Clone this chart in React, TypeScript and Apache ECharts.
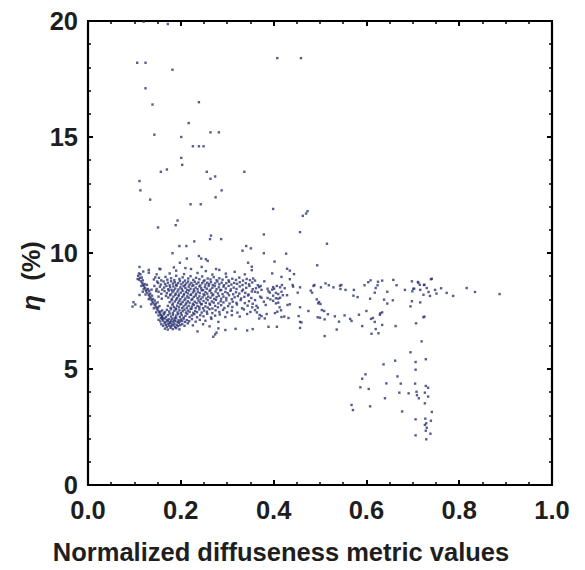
import React, { useEffect, useRef } from "react";
import * as echarts from "echarts";

// ---- axis ticks ----
const xTicks = [0.0, 0.2, 0.4, 0.6, 0.8, 1.0];
const yTicks = [0, 5, 10, 15, 20];

// ---- data (x: normalized diffuseness, y: eta %) ----
const upperScatter: number[][] = [
  [0.120,19.97],[0.172,19.87],[0.408,18.4],[0.459,18.4],[0.106,18.2],[0.124,18.2],[0.182,17.9],[0.124,17.1],
  [0.139,16.4],[0.239,16.5],[0.217,15.6],[0.143,15.1],[0.201,15.0],[0.264,15.2],[0.282,15.2],[0.226,14.6],
  [0.239,14.6],[0.249,14.6],[0.201,14.1],[0.203,13.8],[0.157,13.5],[0.170,13.6],[0.256,13.5],[0.337,13.5],
  [0.264,13.2],[0.274,13.3],[0.111,13.1],[0.113,12.7],[0.134,12.3],[0.288,12.7],[0.275,12.4],[0.221,12.1],
  [0.243,12.1],[0.399,11.9],[0.463,11.6],[0.470,11.7],[0.473,11.8],[0.193,11.4],[0.189,11.2],[0.151,11.1],
  [0.379,10.8],[0.457,10.9],[0.265,10.75],[0.263,10.6],[0.287,10.6],[0.229,10.5],[0.197,10.3],[0.212,10.3],
  [0.341,10.3],[0.333,10.1],[0.351,10.2],[0.515,10.4],[0.182,9.99],[0.379,9.99],[0.427,9.97],[0.239,9.87],
  [0.244,9.76],[0.254,9.73],[0.258,9.66],[0.213,9.76],[0.198,9.58],[0.402,9.63],[0.345,9.58],[0.353,9.41],
  [0.429,9.32],[0.494,9.47],[0.111,9.40],[0.154,9.32],[0.185,9.38],[0.210,9.35],[0.245,9.40],[0.276,9.31],
];

const rightTail: number[][] = [
  [0.360,8.81],[0.366,8.61],[0.369,8.53],[0.372,8.58],[0.362,8.48],[0.360,8.33],[0.366,8.30],[0.374,8.41],
  [0.380,8.78],[0.371,8.12],[0.360,7.97],[0.374,8.07],[0.363,7.72],[0.366,7.64],[0.360,7.54],[0.364,7.44],
  [0.370,7.33],[0.374,7.28],[0.369,7.18],[0.385,7.37],[0.381,7.18],[0.389,6.82],[0.383,7.76],[0.379,7.90],
  [0.387,8.06],[0.387,8.46],[0.389,8.35],[0.392,8.29],[0.397,8.42],[0.399,8.53],[0.401,8.46],[0.407,8.58],
  [0.414,8.52],[0.418,8.62],[0.424,8.48],[0.405,8.28],[0.410,8.23],[0.417,8.33],[0.399,8.16],[0.393,8.00],
  [0.399,7.94],[0.405,8.05],[0.410,8.03],[0.414,8.07],[0.420,8.18],[0.429,8.18],[0.405,7.83],[0.410,7.86],
  [0.413,7.66],[0.403,7.41],[0.408,7.47],[0.417,7.24],[0.423,7.26],[0.432,7.20],[0.407,6.82],[0.416,7.53],
  [0.430,7.76],[0.435,7.79],[0.397,9.12],[0.435,9.24],[0.444,9.09],[0.417,8.97],[0.435,8.87],[0.441,8.62],
  [0.442,8.55],[0.452,8.29],[0.454,7.28],
  [0.739,8.87],[0.741,8.89],[0.457,8.52],[0.486,8.58],[0.488,8.62],[0.483,8.29],[0.480,8.38],[0.502,8.52],
  [0.512,8.69],[0.519,8.61],[0.529,8.52],[0.543,8.59],[0.546,8.62],[0.544,8.45],[0.555,8.41],[0.573,8.41],
  [0.572,8.16],[0.581,8.10],[0.596,8.61],[0.604,8.74],[0.609,8.82],[0.620,8.49],[0.624,8.61],[0.625,8.76],
  [0.634,8.81],[0.645,8.33],[0.658,8.84],[0.665,8.61],[0.683,8.41],[0.698,8.78],[0.701,8.46],[0.699,8.35],
  [0.703,8.46],[0.711,8.75],[0.715,8.63],[0.716,8.41],[0.723,8.20],[0.724,8.62],[0.730,8.49],[0.734,8.32],
  [0.737,8.15],[0.748,8.41],[0.751,8.25],[0.761,8.48],[0.773,8.28],[0.787,8.15],[0.816,8.49],[0.834,8.32],
  [0.887,8.23],[0.618,8.29],[0.712,8.72],[0.725,8.63],
  [0.457,7.66],[0.475,7.50],[0.493,8.00],[0.496,7.83],[0.498,7.89],[0.501,7.80],[0.504,7.54],[0.509,7.50],
  [0.517,7.36],[0.532,7.27],[0.553,7.31],[0.565,7.16],[0.568,7.07],[0.584,7.34],[0.600,7.50],[0.608,8.03],
  [0.610,7.16],[0.614,7.20],[0.618,7.03],[0.629,7.34],[0.630,7.40],[0.634,7.44],[0.638,7.99],[0.645,7.82],
  [0.657,7.96],[0.634,6.90],[0.620,6.72],[0.611,6.52],[0.626,6.54],[0.591,6.85],[0.536,6.70],[0.510,6.42],
  [0.457,7.03],[0.460,7.01],[0.457,6.77],[0.663,6.85],[0.695,7.70],[0.698,7.92],[0.716,7.87],[0.707,6.97],
  [0.725,7.26],[0.723,7.23],[0.719,6.19],[0.500,7.21],[0.510,7.14],[0.541,7.04],[0.495,7.23],
];

const lowerBranch: number[][] = [
  [0.695,5.72],[0.637,5.20],[0.662,5.36],[0.706,5.30],[0.728,5.42],[0.706,4.97],[0.598,4.77],[0.591,4.58],
  [0.667,4.68],[0.643,4.38],[0.674,4.37],[0.705,4.37],[0.728,4.27],[0.733,4.19],[0.587,4.21],[0.605,4.14],
  [0.671,3.98],[0.691,3.95],[0.708,4.02],[0.709,3.87],[0.713,3.74],[0.726,3.98],[0.733,3.81],[0.640,3.74],
  [0.726,3.52],[0.568,3.45],[0.571,3.23],[0.608,3.39],[0.677,3.17],[0.741,3.15],[0.706,2.83],[0.727,2.86],
  [0.739,2.77],[0.729,2.66],[0.726,2.59],[0.730,2.47],[0.728,2.34],[0.738,2.21],[0.706,2.14],[0.729,1.97],
];

const clusterTop: number[][] = [
  [0.11,9.12],[0.119,9.2],[0.131,9.27],[0.131,9.15],[0.148,9.08],[0.156,9.3],[0.176,9.12],[0.19,9.24],
  [0.207,9.09],[0.222,9.31],[0.236,9.14],[0.254,9.22],[0.268,9.07],[0.283,9.27],[0.297,9.11],[0.316,9.19],
  [0.338,9.08],[0.353,9.26],
  [0.142,8.86],[0.153,8.93],[0.158,8.82],[0.167,8.97],[0.171,8.85],[0.179,8.91],[0.186,8.83],[0.19,9.02],
  [0.197,8.88],[0.204,8.95],[0.209,8.81],[0.216,8.9],[0.221,9.0],[0.227,8.84],[0.233,8.93],[0.24,8.87],
  [0.246,8.99],[0.251,8.82],[0.258,8.9],[0.264,8.86],[0.271,8.96],[0.277,8.83],[0.283,8.91],[0.29,8.85],
  [0.298,8.97],[0.303,8.82],[0.311,8.89],[0.319,8.84],[0.326,8.94],[0.334,8.81],[0.342,8.88],[0.349,8.83],
  [0.356,8.9],
  [0.151,8.71],[0.157,8.64],[0.163,8.77],[0.166,8.66],[0.172,8.72],[0.176,8.61],[0.179,8.78],[0.183,8.68],
  [0.187,8.74],[0.19,8.63],[0.194,8.7],[0.198,8.79],[0.201,8.65],[0.205,8.73],[0.209,8.61],[0.212,8.69],
  [0.216,8.77],[0.219,8.64],[0.223,8.71],[0.227,8.62],[0.23,8.76],[0.234,8.67],[0.238,8.73],[0.242,8.6],
  [0.246,8.7],[0.249,8.78],[0.253,8.64],[0.257,8.72],[0.261,8.66],[0.265,8.75],[0.269,8.62],[0.274,8.69],
  [0.279,8.77],[0.283,8.65],[0.288,8.72],[0.293,8.61],[0.298,8.7],[0.304,8.76],[0.309,8.64],[0.315,8.71],
  [0.321,8.67],[0.327,8.74],[0.333,8.62],[0.34,8.7],[0.347,8.65],[0.354,8.73],
  [0.148,8.45],[0.155,8.55],[0.16,8.42],[0.164,8.51],[0.169,8.58],[0.173,8.44],[0.177,8.53],[0.18,8.41],
  [0.184,8.56],[0.188,8.47],[0.191,8.59],[0.195,8.43],[0.199,8.52],[0.202,8.45],[0.206,8.57],[0.21,8.49],
  [0.214,8.41],[0.217,8.55],[0.221,8.46],[0.225,8.58],[0.228,8.43],[0.232,8.51],[0.236,8.44],[0.24,8.56],
  [0.244,8.48],[0.248,8.4],[0.252,8.53],[0.256,8.46],[0.26,8.58],[0.264,8.42],[0.268,8.5],[0.273,8.57],
  [0.277,8.44],[0.282,8.52],[0.287,8.41],[0.292,8.55],[0.297,8.47],[0.303,8.58],[0.308,8.43],[0.314,8.51],
  [0.32,8.45],[0.327,8.56],[0.334,8.42],[0.341,8.5],[0.348,8.58],[0.355,8.44],
];

const clusterMid: number[][] = [
  [0.152,8.33],[0.158,8.24],[0.165,8.36],[0.17,8.27],[0.174,8.38],[0.178,8.22],[0.182,8.31],[0.185,8.39],
  [0.189,8.25],[0.193,8.34],[0.196,8.21],[0.2,8.29],[0.204,8.37],[0.207,8.23],[0.211,8.32],[0.215,8.26],
  [0.218,8.38],[0.222,8.21],[0.226,8.3],[0.229,8.36],[0.233,8.24],[0.237,8.33],[0.241,8.27],[0.245,8.39],
  [0.249,8.22],[0.253,8.31],[0.257,8.25],[0.262,8.37],[0.266,8.28],[0.27,8.21],[0.275,8.34],[0.28,8.26],
  [0.285,8.39],[0.29,8.23],[0.296,8.32],[0.301,8.27],[0.307,8.37],[0.313,8.22],[0.319,8.31],[0.326,8.25],
  [0.332,8.36],[0.339,8.28],[0.346,8.21],[0.353,8.34],
  [0.168,8.15],[0.173,8.08],[0.177,8.18],[0.181,8.02],[0.184,8.12],[0.188,8.19],[0.192,8.05],[0.195,8.14],
  [0.199,8.01],[0.203,8.1],[0.206,8.17],[0.21,8.04],[0.214,8.13],[0.217,8.07],[0.221,8.19],[0.225,8.02],
  [0.228,8.11],[0.232,8.16],[0.236,8.05],[0.24,8.13],[0.243,8.01],[0.247,8.09],[0.251,8.18],[0.255,8.04],
  [0.259,8.12],[0.264,8.07],[0.268,8.17],[0.272,8.02],[0.277,8.1],[0.282,8.15],[0.287,8.03],[0.292,8.12],
  [0.298,8.06],[0.304,8.18],[0.31,8.01],[0.316,8.09],[0.323,8.14],[0.33,8.04],[0.337,8.11],[0.345,8.17],
  [0.352,8.06],
  [0.176,7.88],[0.18,7.96],[0.183,7.82],[0.187,7.91],[0.19,7.99],[0.194,7.85],[0.197,7.93],[0.201,7.81],
  [0.204,7.89],[0.208,7.97],[0.212,7.84],[0.215,7.92],[0.219,7.86],[0.223,7.98],[0.226,7.81],[0.23,7.9],
  [0.234,7.84],[0.238,7.95],[0.241,7.87],[0.245,7.8],[0.249,7.93],[0.254,7.85],[0.258,7.97],[0.262,7.82],
  [0.267,7.91],[0.271,7.86],[0.276,7.98],[0.281,7.83],[0.286,7.92],[0.292,7.87],[0.298,7.96],[0.305,7.82],
  [0.312,7.9],[0.32,7.85],[0.329,7.97],[0.338,7.84],[0.347,7.92],[0.355,7.81],
  [0.172,7.72],[0.178,7.64],[0.182,7.76],[0.185,7.67],[0.189,7.61],[0.192,7.73],[0.196,7.66],[0.199,7.78],
  [0.203,7.62],[0.206,7.7],[0.21,7.77],[0.213,7.64],[0.217,7.72],[0.221,7.6],[0.224,7.69],[0.228,7.76],
  [0.232,7.63],[0.236,7.71],[0.24,7.67],[0.244,7.79],[0.248,7.62],[0.253,7.7],[0.258,7.65],[0.263,7.77],
  [0.268,7.61],[0.274,7.72],[0.28,7.66],[0.287,7.75],[0.294,7.63],[0.302,7.71],[0.311,7.67],[0.321,7.78],
  [0.332,7.62],[0.344,7.73],[0.354,7.66],
];

const clusterLow: number[][] = [
  [0.166,7.45],[0.17,7.55],[0.175,7.48],[0.179,7.58],[0.183,7.42],[0.186,7.51],[0.19,7.57],[0.193,7.44],
  [0.197,7.53],[0.2,7.41],[0.204,7.49],[0.208,7.56],[0.211,7.43],[0.215,7.52],[0.219,7.47],[0.223,7.59],
  [0.227,7.42],[0.231,7.5],[0.235,7.45],[0.24,7.57],[0.245,7.43],[0.25,7.52],[0.256,7.47],[0.262,7.58],
  [0.268,7.41],[0.275,7.53],[0.283,7.46],[0.291,7.55],[0.3,7.44],[0.31,7.51],[0.322,7.43],[0.336,7.57],
  [0.35,7.46],
  [0.16,7.28],[0.164,7.36],[0.168,7.24],[0.172,7.32],[0.176,7.39],[0.179,7.26],[0.183,7.34],[0.187,7.21],
  [0.19,7.3],[0.194,7.37],[0.198,7.25],[0.202,7.33],[0.206,7.22],[0.21,7.29],[0.214,7.38],[0.219,7.24],
  [0.224,7.31],[0.229,7.36],[0.235,7.23],[0.242,7.32],[0.249,7.27],[0.257,7.38],[0.265,7.22],[0.274,7.3],
  [0.284,7.35],[0.296,7.24],[0.31,7.32],[0.327,7.26],[0.343,7.37],
  [0.152,7.12],[0.156,7.05],[0.159,7.16],[0.162,7.08],[0.165,7.18],[0.167,7.02],[0.17,7.11],[0.172,7.06],
  [0.174,7.15],[0.177,7.01],[0.179,7.09],[0.181,7.17],[0.183,7.04],[0.186,7.12],[0.188,7.07],[0.19,7.19],
  [0.193,7.02],[0.195,7.1],[0.198,7.05],[0.2,7.14],[0.203,7.08],[0.206,7.17],[0.209,7.03],[0.213,7.11],
  [0.218,7.06],[0.224,7.15],[0.232,7.04],[0.241,7.12],[0.253,7.08],[0.266,7.16],[0.281,7.03],
  [0.158,6.93],[0.162,6.86],[0.165,6.97],[0.168,6.9],[0.17,6.82],[0.173,6.95],[0.175,6.87],[0.177,6.99],
  [0.179,6.84],[0.181,6.92],[0.184,6.88],[0.186,6.96],[0.188,6.81],[0.191,6.9],[0.194,6.85],[0.196,6.98],
  [0.199,6.89],[0.203,6.94],[0.208,6.86],[0.215,6.97],[0.226,6.88],[0.248,6.93],[0.262,6.84],
  [0.166,6.74],[0.172,6.7],[0.178,6.77],[0.183,6.72],[0.19,6.76],[0.197,6.71],[0.236,6.62],[0.27,6.39],
  [0.274,6.49],[0.277,6.57],[0.281,6.75],[0.296,6.68],[0.318,6.73],[0.343,6.66],[0.355,6.72],
];

const armPoints: number[][] = [
  [0.108,9.02],[0.112,8.93],[0.11,8.85],[0.114,8.78],[0.117,8.7],[0.119,8.62],[0.121,8.56],[0.123,8.49],
  [0.126,8.41],[0.125,8.35],[0.128,8.28],[0.131,8.19],[0.133,8.12],[0.135,8.05],[0.137,7.97],[0.139,7.9],
  [0.141,7.83],[0.144,7.76],[0.146,7.69],[0.148,7.61],[0.15,7.54],[0.153,7.46],[0.155,7.39],[0.157,7.33],
  [0.159,7.25],[0.162,7.18],[0.122,8.66],[0.129,8.45],[0.134,8.25],[0.14,8.02],[0.146,7.82],[0.151,7.65],
  [0.156,7.48],[0.113,9.08],[0.118,8.82],
  [0.143,8.58],[0.147,8.36],[0.152,8.12],[0.149,8.77],[0.159,8.03],[0.145,8.95],
  [0.116,8.94],[0.107,8.88],[0.12,8.44],[0.127,8.63],[0.132,8.37],[0.124,8.21],[0.138,8.16],[0.131,8.01],
  [0.144,7.95],[0.136,7.79],[0.15,7.87],[0.142,7.62],[0.154,7.71],[0.147,7.44],[0.16,7.52],[0.152,7.31],
  [0.163,7.4],[0.157,7.2],[0.137,8.42],[0.115,8.58],
];

const leftOutliers: number[][] = [
  [0.098,7.88],[0.096,7.69],[0.114,7.69],[0.111,8.19],[0.118,8.33],[0.102,7.78],
];

const allPoints = [
  ...upperScatter, ...rightTail, ...lowerBranch, ...clusterTop, ...clusterMid, ...clusterLow, ...armPoints, ...leftOutliers,
];

const FONT = "'Liberation Sans', Arial, Helvetica, sans-serif";
const TEXT_COLOR = "#1e1e1e";

export default function App() {
  const ref = useRef<HTMLDivElement>(null);
  useEffect(() => {
    document.body.style.margin = "0";
    const chart = echarts.init(ref.current!, null, { renderer: "svg" });
    const tickStyle = { show: true, inside: true, length: 5, lineStyle: { color: "#000", width: 2 } };
    const minorStyle = (n: number) => ({ show: true, splitNumber: n, length: 3, lineStyle: { color: "#000", width: 1.5 } });
    const lineStyle = { show: true, onZero: false, lineStyle: { color: "#000", width: 2.2 } };
    const labelStyle = { fontFamily: FONT, fontWeight: "bold" as const, fontSize: 25.5, color: TEXT_COLOR };
    chart.setOption({
      animation: false,
      grid: { left: 88, right: 33, top: 21, bottom: 85, containLabel: false, outerBoundsMode: "none" },
      xAxis: [
        {
          type: "value", min: xTicks[0], max: xTicks[xTicks.length - 1], interval: 0.2, position: "bottom",
          axisLine: lineStyle, axisTick: tickStyle, minorTick: minorStyle(4), splitLine: { show: false },
          axisLabel: { ...labelStyle, margin: 12, formatter: (v: number) => v.toFixed(1), showMinLabel: true, showMaxLabel: true },
        },
        {
          type: "value", min: xTicks[0], max: xTicks[xTicks.length - 1], interval: 0.2, position: "top",
          axisLine: lineStyle, axisTick: tickStyle, minorTick: minorStyle(4), splitLine: { show: false },
          axisLabel: { show: false },
        },
      ],
      yAxis: [
        {
          type: "value", min: yTicks[0], max: yTicks[yTicks.length - 1], interval: 5, position: "left",
          axisLine: lineStyle, axisTick: tickStyle, minorTick: minorStyle(5), splitLine: { show: false },
          axisLabel: { ...labelStyle, margin: 10, showMinLabel: true, showMaxLabel: true },
        },
        {
          type: "value", min: yTicks[0], max: yTicks[yTicks.length - 1], interval: 5, position: "right",
          axisLine: lineStyle, axisTick: tickStyle, minorTick: minorStyle(5), splitLine: { show: false },
          axisLabel: { show: false },
        },
      ],
      graphic: [
        {
          type: "text", x: 281, y: 552,
          style: {
            text: "Normalized diffuseness metric values", fill: TEXT_COLOR,
            font: `bold 25.5px ${FONT}`, align: "center", verticalAlign: "middle",
          },
        },
        {
          type: "text", x: 31, y: 276, rotation: Math.PI / 2,
          style: {
            text: "{i|η}  (%)", fill: TEXT_COLOR, font: `bold 25.5px ${FONT}`, align: "center", verticalAlign: "middle",
            rich: { i: { fontStyle: "italic", fontWeight: "bold", fontSize: 26, fontFamily: FONT, fill: TEXT_COLOR } },
          },
        },
      ],
      series: [
        {
          type: "scatter", xAxisIndex: 0, yAxisIndex: 0, data: allPoints,
          symbol: "rect", symbolSize: 2.4, itemStyle: { color: "#2c3372" }, silent: true,
        },
      ],
    });
    return () => chart.dispose();
  }, []);
  return <div ref={ref} style={{ width: 585, height: 570 }} />;
}
